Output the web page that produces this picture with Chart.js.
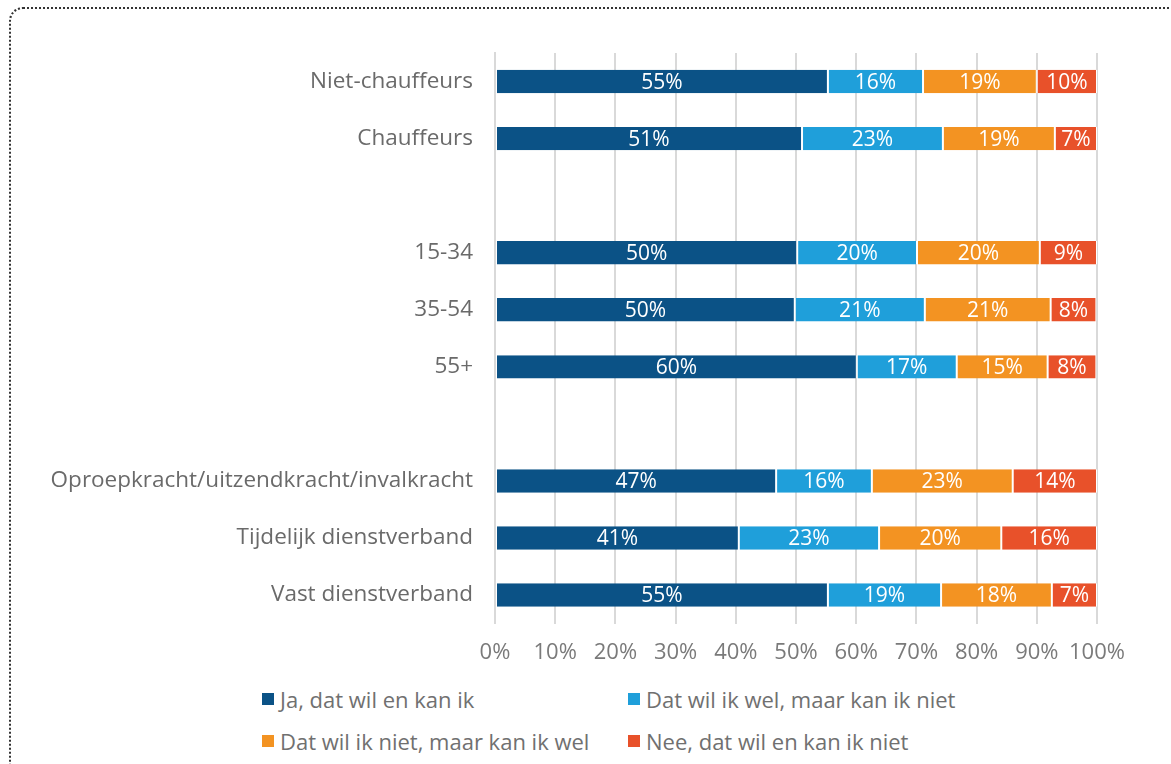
<!DOCTYPE html>
<html>
<head>
<meta charset="utf-8">
<script src="https://cdn.jsdelivr.net/npm/chart.js@4"></script>
<style>
  html, body { margin: 0; padding: 0; background: #fff; }
  body { width: 1171px; height: 764px; position: relative; overflow: hidden; font-family: "Open Sans", sans-serif; }
  .frame { position: absolute; left: 9px; top: 7px; width: 1200px; height: 800px; border: 2px dotted #333; border-radius: 14px; box-sizing: border-box; }
  .wrap { position: absolute; left: 0; top: 0; width: 1171px; height: 683px; }
  .legend { position: absolute; left: 262px; top: 684px; display: grid; grid-template-columns: 366px 400px; row-gap: 12px; color: #707070; font-size: 22px; }
  .legend span { display: flex; align-items: center; height: 30px; white-space: nowrap; }
  .legend i { display: inline-block; flex-shrink: 0; width: 12px; height: 12px; margin-right: 6px; }
</style>
</head>
<body>
<div class="frame"></div>
<div class="wrap"><canvas id="chart"></canvas></div>
<div class="legend" id="legend"></div>
<script>
// categorieën (lege regels als tussenruimte)
const categories = [
  "Niet-chauffeurs", "Chauffeurs", "",
  "15-34", "35-54", "55+", "",
  "Oproepkracht/uitzendkracht/invalkracht", "Tijdelijk dienstverband", "Vast dienstverband"
];
const seriesNames = [
  "Ja, dat wil en kan ik",
  "Dat wil ik wel, maar kan ik niet",
  "Dat wil ik niet, maar kan ik wel",
  "Nee, dat wil en kan ik niet"
];
const seriesColors = ["#0b5286", "#1f9fda", "#f39322", "#e8512a"];
const jaKan     = [55.3, 51.0, null, 50.2, 49.8, 60.1, null, 46.7, 40.5, 55.3];
const welNiet   = [15.8, 23.4, null, 19.9, 21.6, 16.6, null, 15.9, 23.3, 18.8];
const nietWel   = [18.9, 18.6, null, 20.4, 20.9, 15.1, null, 23.4, 20.3, 18.4];
const neeNiet   = [10.0,  7.0, null,  9.5,  7.6,  8.1, null, 14.0, 15.9,  7.5];
const shownLabels = [
  [55, 51, null, 50, 50, 60, null, 47, 41, 55],
  [16, 23, null, 20, 21, 17, null, 16, 23, 19],
  [19, 19, null, 20, 21, 15, null, 23, 20, 18],
  [10,  7, null,  9,  8,  8, null, 14, 16,  7]
];
const xTicks = [0, 10, 20, 30, 40, 50, 60, 70, 80, 90, 100];

const allSeries = [jaKan, welNiet, nietWel, neeNiet];

// waarden in de balken tekenen
const barLabels = {
  id: "barLabels",
  afterDatasetsDraw(chart) {
    const ctx = chart.ctx;
    ctx.save();
    ctx.font = '21px "Open Sans", sans-serif';
    ctx.fillStyle = "#fff";
    ctx.textAlign = "center";
    ctx.textBaseline = "middle";
    chart.data.datasets.forEach((ds, i) => {
      chart.getDatasetMeta(i).data.forEach((bar, j) => {
        const v = shownLabels[i][j];
        if (v == null) return;
        const mid = (bar.x + bar.base) / 2;
        ctx.fillText(v + "%", mid, bar.y + 1);
      });
    });
    ctx.restore();
  }
};

const chart = new Chart(document.getElementById("chart").getContext("2d"), {
  type: "bar",
  data: {
    labels: categories,
    datasets: allSeries.map((vals, i) => ({
      label: seriesNames[i],
      data: vals,
      backgroundColor: seriesColors[i],
      borderColor: "#ffffff",
      borderWidth: { left: 1, right: 1, top: 0, bottom: 0 },
      borderSkipped: false,
      barPercentage: 0.41,
      categoryPercentage: 1.0,
    })),
  },
  options: {
    indexAxis: "y",
    responsive: true,
    maintainAspectRatio: false,
    animation: false,
    layout: { padding: { left: 0, right: 74, top: 53, bottom: 1 } },
    plugins: { legend: { display: false }, tooltip: { enabled: false } },
    scales: {
      x: {
        stacked: true,
        min: 0,
        max: 100,
        afterBuildTicks: (s) => { s.ticks = xTicks.map((v) => ({ value: v })); },
        ticks: {
          callback: (v) => v + "%",
          color: "#7a7a7a",
          font: { family: "Open Sans", size: 22 },
          padding: 16,
          maxRotation: 0,
        },
        grid: { color: "#d9d9d9", lineWidth: 2, drawTicks: false },
        border: { display: false },
      },
      y: {
        stacked: true,
        afterFit: (s) => { s.width = 495; },
        ticks: {
          color: "#6a6a6a",
          font: { family: "Open Sans", size: 22.5 },
          padding: 22,
          autoSkip: false,
        },
        grid: { display: false, drawTicks: false },
        border: { display: true, color: "#d9d9d9", width: 2 },
      },
    },
  },
  plugins: [barLabels],
});

// legenda
const legend = document.getElementById("legend");
seriesNames.forEach((name, i) => {
  const item = document.createElement("span");
  item.innerHTML = '<i style="background:' + seriesColors[i] + '"></i>' + name;
  legend.appendChild(item);
});
</script>
</body>
</html>
